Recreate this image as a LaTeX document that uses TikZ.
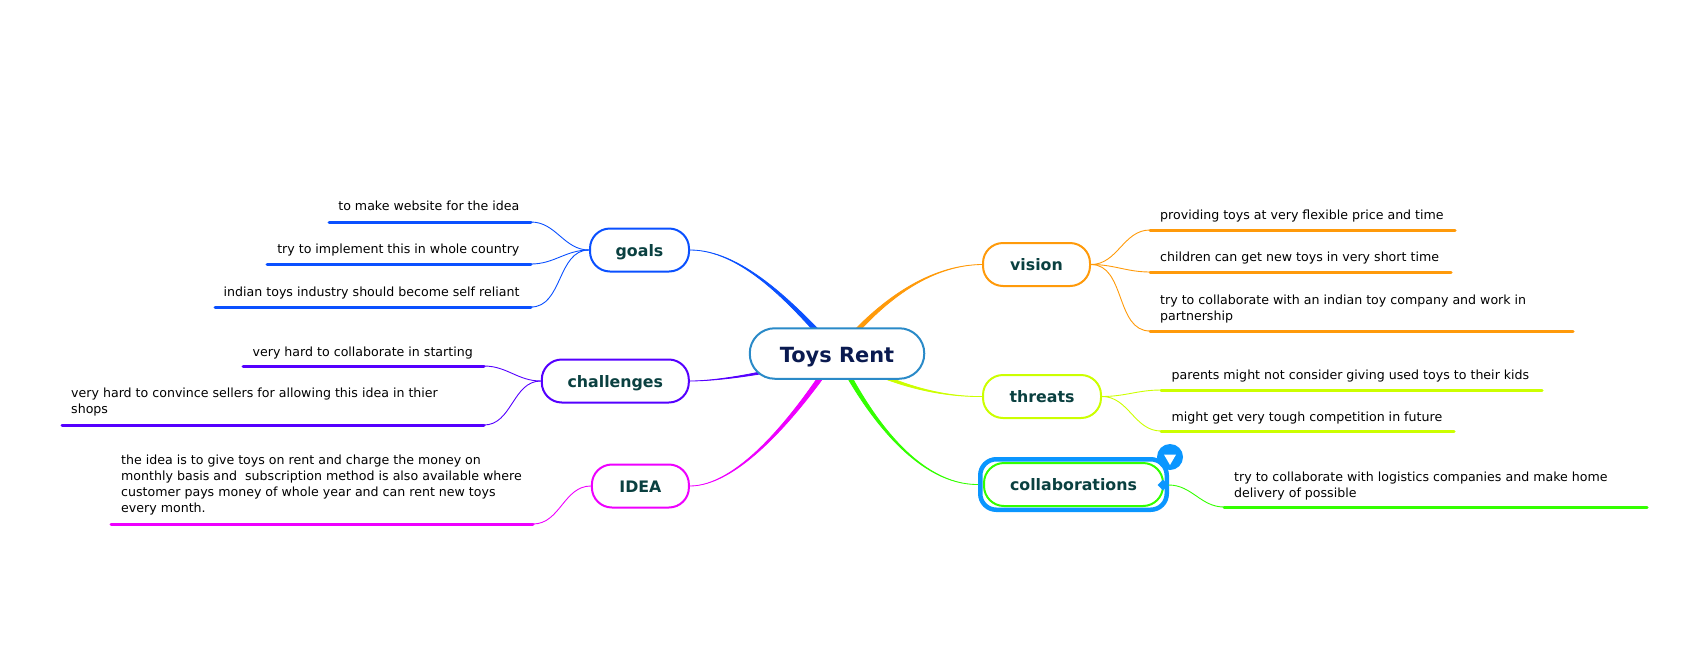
\documentclass[tikz,border=0pt]{standalone}
\usepackage{fontspec}
\setmainfont{DejaVu Sans}
\usetikzlibrary{calc,shapes.geometric}
\pgfdeclarelayer{bg}
\pgfsetlayers{bg,main}
\definecolor{rootblue}{HTML}{2A8AC8}
\definecolor{rootink}{HTML}{0A1A50}
\definecolor{topicink}{HTML}{0A4040}
\definecolor{selblue}{HTML}{0A96FF}
\definecolor{cgoals}{HTML}{0A50FF}
\definecolor{cchall}{HTML}{5500FF}
\definecolor{cidea}{HTML}{EE00FF}
\definecolor{cvision}{HTML}{FF9A0A}
\definecolor{cthreat}{HTML}{CCFF00}
\definecolor{ccollab}{HTML}{33FF00}
% thick at the root, thin at the topic
\newcommand{\branch}[5]{%
  \fill[#1,draw=#1,line width=0.8pt] (#2) .. controls (#3) and ($(#4)+0.5*(#5)$) .. ($(root)+(#5)$)
    -- ($(root)-(#5)$) .. controls ($(#4)-0.5*(#5)$) and (#3) .. (#2) -- cycle;}
\begin{document}
\begin{tikzpicture}[
    x=1pt, y=-1pt,
    rootnode/.style={
        draw=rootblue, fill=white, line width=2pt, rounded corners=25pt,
        minimum width=174.5pt, minimum height=50.5pt, inner sep=0pt,
        text height=17pt, text depth=0pt,
        text=rootink, font=\fontsize{20.9}{25}\selectfont\bfseries
    },
    topic/.style={
        draw=#1, fill=white, line width=2pt, rounded corners=20pt,
        minimum height=43pt, inner sep=0pt,
        text height=12pt, text depth=0pt,
        text=topicink, font=\fontsize{15.8}{19}\selectfont\bfseries
    },
    leaf/.style={
        inner sep=0pt, align=left, text=black, text depth=0pt,
        font=\fontsize{12.6}{16}\selectfont
    },
    underline/.style={line width=3pt, line cap=round},
    twig/.style={line width=0.9pt, out=#1, in=#1+180}
]
\useasboundingbox (0,0) rectangle (1698,646);

% Root and topics
\node[rootnode] (root) at (837,353.5) {Toys Rent};
\node[topic=cgoals, minimum width=99pt] (goals) at (639.5,250) {goals};
\node[topic=cchall, minimum width=147pt] (challenges) at (615.3,381) {challenges};
\node[topic=cidea, minimum width=97pt] (idea) at (640.4,486) {IDEA};
\node[topic=cvision, minimum width=107pt] (vision) at (1036.5,264.5) {vision};
\node[topic=cthreat, minimum width=118pt] (threats) at (1042,396.5) {threats};
\node[topic=ccollab, minimum width=179pt] (collab) at (1073.5,484.5) {collaborations};

% Selection frame on collaborations
\node[draw=selblue, line width=4.5pt, rounded corners=16pt, minimum width=186.5pt,
    minimum height=50.5pt, inner sep=0pt] (selframe) at (1073.5,484.5) {};
\node[circle, fill=selblue, minimum size=26pt, inner sep=0pt] (togglebtn) at (1170,457) {};
\node[regular polygon, regular polygon sides=3, shape border rotate=180, fill=white,
    minimum size=14pt, inner sep=0pt] (toggletri) at (1170,458) {};
\node[diamond, fill=selblue, minimum size=11pt, inner sep=0pt] (grip) at (1163,485) {};

% Branches from the root
\begin{pgfonlayer}{bg}
\branch{cgoals}{goals.east}{740,250}{790,300}{2,-2}
\branch{cchall}{challenges.east}{720,381}{780,372}{0.4,2.7}
\branch{cidea}{idea.east}{735,486}{790,425}{2,2}
\branch{cvision}{vision.west}{930,265}{880,300}{1.6,2.2}
\branch{cthreat}{threats.west}{940,397}{890,385}{-1,2.6}
\branch{ccollab}{selframe.west}{920,485}{870,420}{-2,1.6}
\end{pgfonlayer}

% Goals
\node[leaf, anchor=south east] (g1) at (519.6,211) {to make website for the idea};
\node[leaf, anchor=south east] (g2) at (519.6,254) {try to implement this in whole country};
\node[leaf, anchor=south east] (g3) at (519.6,297) {indian toys industry should become self reliant};
\coordinate (g1a) at (329,222); \coordinate (g1b) at (531,222);
\coordinate (g2a) at (267,264); \coordinate (g2b) at (531,264);
\coordinate (g3a) at (215,307); \coordinate (g3b) at (531,307);
\foreach \n in {g1,g2,g3} {
  \draw[underline, cgoals] (\n a) -- (\n b);
  \draw[twig=180, cgoals] (goals.west) to (\n b);
}

% Challenges
\node[leaf, anchor=south east] (c1) at (473,356.5) {very hard to collaborate in starting};
\node[leaf, anchor=south west] (c2) at (71,414) {very hard to convince sellers for allowing this idea in thier\\shops};
\coordinate (c1a) at (243,366); \coordinate (c1b) at (484,366);
\coordinate (c2a) at (62,425); \coordinate (c2b) at (484,425);
\foreach \n in {c1,c2} {
  \draw[underline, cchall] (\n a) -- (\n b);
  \draw[twig=180, cchall] (challenges.west) to (\n b);
}

% Idea
\node[leaf, anchor=south west] (i1) at (121,513) {the idea is to give toys on rent and charge the money on\\monthly basis and~ subscription method is also available where\\customer pays money of whole year and can rent new toys\\every month.};
\coordinate (i1a) at (111,524); \coordinate (i1b) at (533,524);
\draw[underline, cidea] (i1a) -- (i1b);
\draw[twig=180, cidea] (idea.west) to (i1b);

% Vision
\node[leaf, anchor=south west] (v1) at (1160,220) {providing toys at very flexible price and time};
\node[leaf, anchor=south west] (v2) at (1160,262) {children can get new toys in very short time};
\node[leaf, anchor=south west] (v3) at (1160,321) {try to collaborate with an indian toy company and work in\\partnership};
\coordinate (v1a) at (1150,230); \coordinate (v1b) at (1455,230);
\coordinate (v2a) at (1150,272); \coordinate (v2b) at (1451,272);
\coordinate (v3a) at (1150,331); \coordinate (v3b) at (1573,331);
\foreach \n in {v1,v2,v3} {
  \draw[underline, cvision] (\n a) -- (\n b);
  \draw[twig=0, cvision] (vision.east) to (\n a);
}

% Threats
\node[leaf, anchor=south west] (t1) at (1171.4,380) {parents might not consider giving used toys to their kids};
\node[leaf, anchor=south west] (t2) at (1171.4,422) {might get very tough competition in future};
\coordinate (t1a) at (1161,390); \coordinate (t1b) at (1542,390);
\coordinate (t2a) at (1161,431); \coordinate (t2b) at (1454,431);
\foreach \n in {t1,t2} {
  \draw[underline, cthreat] (\n a) -- (\n b);
  \draw[twig=0, cthreat] (threats.east) to (\n a);
}

% Collaborations
\node[leaf, anchor=south west] (k1) at (1234,498) {try to collaborate with logistics companies and make home\\delivery of possible};
\coordinate (k1a) at (1224,507); \coordinate (k1b) at (1647,507);
\draw[underline, ccollab] (k1a) -- (k1b);
\draw[twig=0, ccollab] (grip.east) to (k1a);

\end{tikzpicture}
\end{document}
